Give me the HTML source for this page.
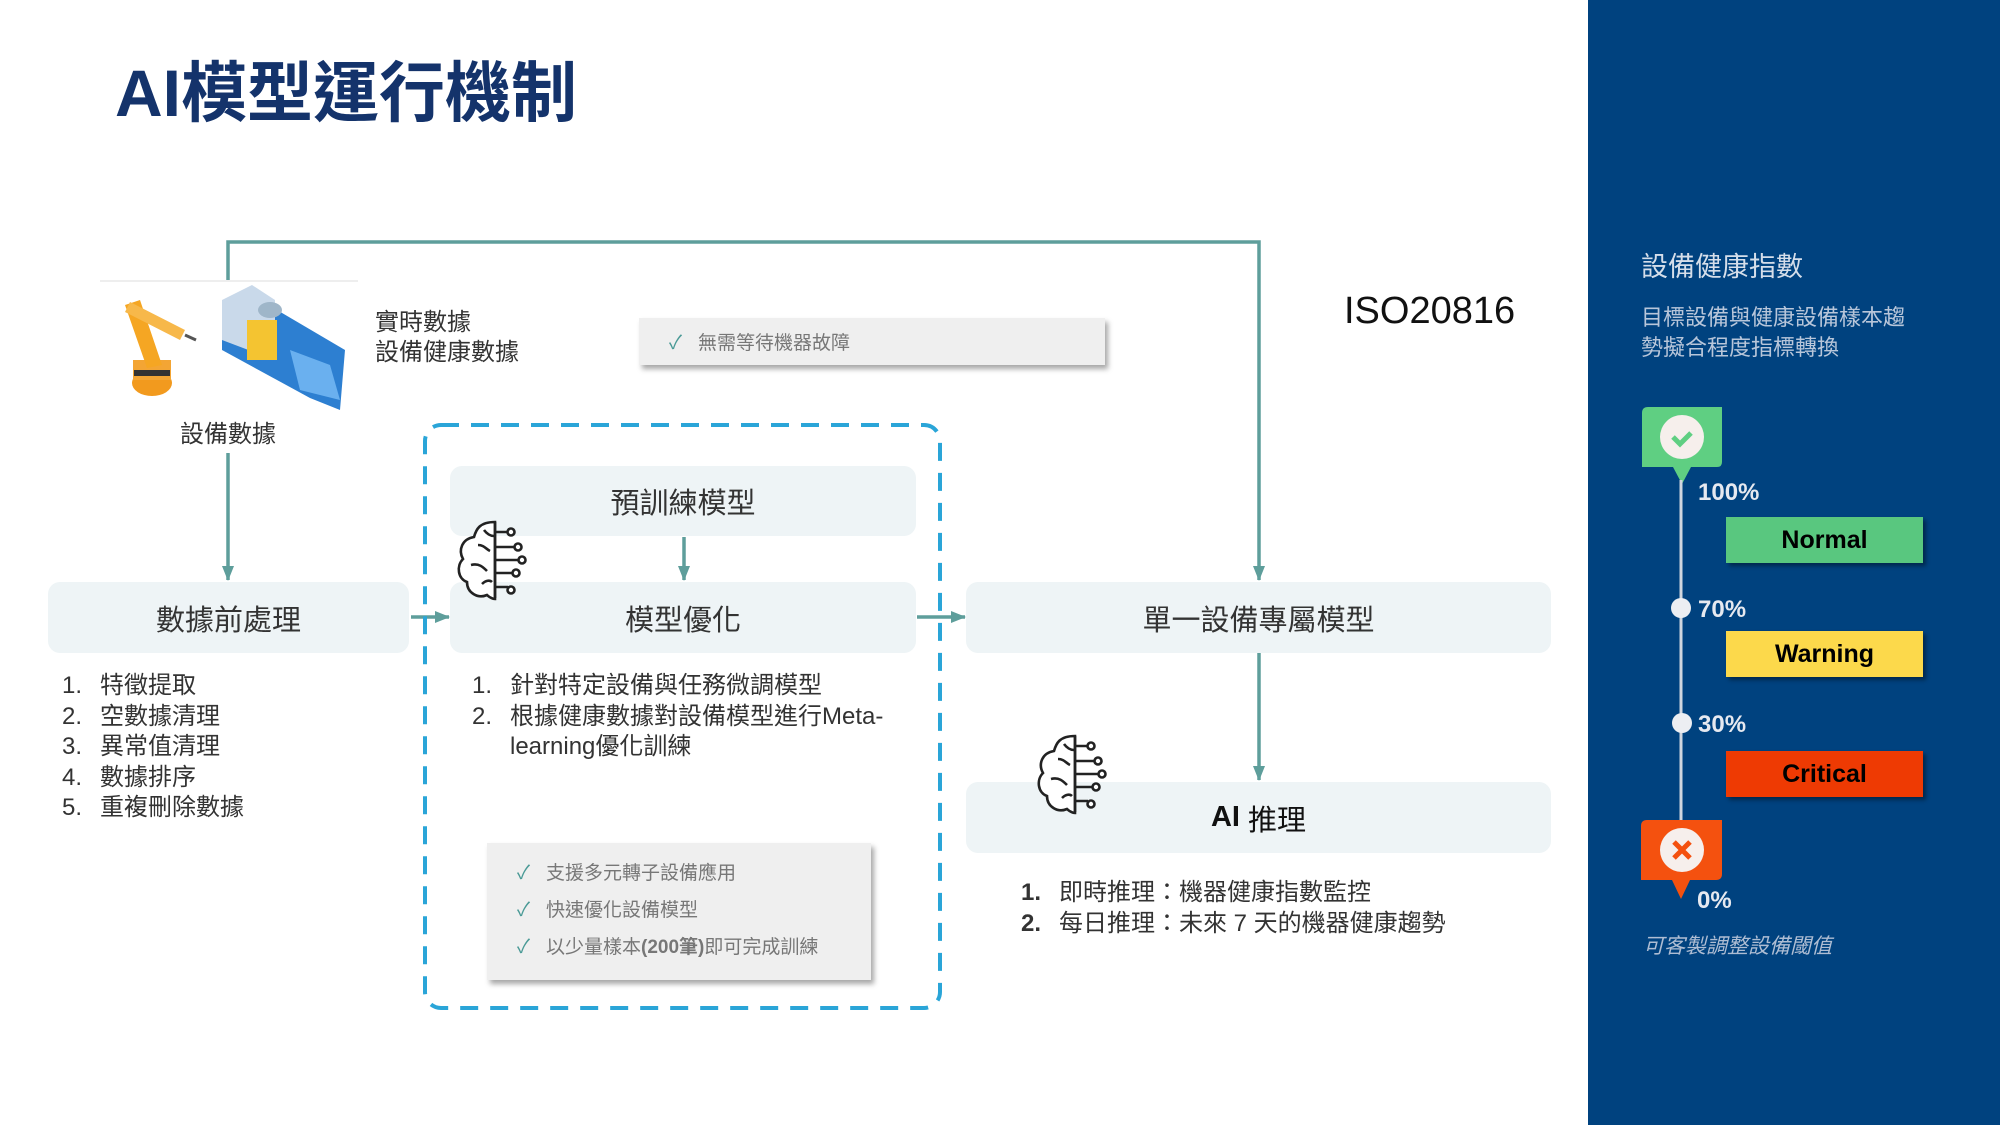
<!DOCTYPE html>
<html><head><meta charset="utf-8"><style>
*{margin:0;padding:0;box-sizing:border-box}
body{width:2000px;height:1125px;position:relative;background:#fff;font-family:"Liberation Sans","Noto Sans CJK TC",sans-serif;overflow:hidden;color:#333}
.a{position:absolute;white-space:nowrap}
.box{position:absolute;background:#eef4f6;border-radius:12px;display:flex;align-items:center;justify-content:center;font-size:29px;color:#333}
.gray{position:absolute;background:#efefef;box-shadow:3px 4px 5px rgba(0,0,0,.35)}
.chk{color:#4a9a96;margin-right:16px}
.li{font-size:24px;line-height:30.5px}
.n{display:inline-block;width:38px}
.tag{position:absolute;left:1726px;width:197px;height:46px;display:flex;align-items:center;justify-content:center;font-weight:bold;font-size:25px;color:#000;box-shadow:3px 3px 4px rgba(0,0,0,.4)}
.pct{position:absolute;color:#e6e9f0;font-weight:bold;font-size:24px}
</style></head><body>
<div class="a" style="left:115px;top:40px;font-size:66px;font-weight:bold;color:#14336b">AI模型運行機制</div>

<div class="a" style="left:1588px;top:0;width:412px;height:1125px;background:#00427f"></div>

<svg class="a" style="left:0;top:0" width="2000" height="1125">
<defs><marker id="ar" markerUnits="userSpaceOnUse" markerWidth="16" markerHeight="16" refX="14" refY="8" orient="auto"><path d="M0,2 L15,8 L0,14 z" fill="#5e9e9b"/></marker></defs>
<g stroke="#5e9e9b" stroke-width="3.5" fill="none">
<polyline points="228,282 228,242 1259,242 1259,580" marker-end="url(#ar)"/>
<line x1="228" y1="453" x2="228" y2="580" marker-end="url(#ar)"/>
<line x1="411" y1="617" x2="449" y2="617" marker-end="url(#ar)"/>
<line x1="684" y1="537" x2="684" y2="580" marker-end="url(#ar)"/>
<line x1="917" y1="617" x2="965" y2="617" marker-end="url(#ar)"/>
<line x1="1259" y1="653" x2="1259" y2="780" marker-end="url(#ar)"/>
</g>
<line x1="100" y1="281" x2="358" y2="281" stroke="#eee" stroke-width="2"/>
<rect x="425" y="425" width="515" height="583" rx="16" fill="none" stroke="#2aa5d8" stroke-width="4" stroke-dasharray="18,12"/>
<g>
<ellipse cx="152" cy="383" rx="20" ry="13" fill="#f29a1e"/>
<rect x="133" y="360" width="38" height="20" fill="#f3a534"/>
<rect x="134" y="370" width="36" height="6" fill="#333"/>
<path d="M125,305 L140,300 L162,365 L147,368 z" fill="#f5a623"/>
<path d="M130,302 L185,330 L180,340 L125,312 z" fill="#f7b84a"/>
<line x1="185" y1="335" x2="196" y2="340" stroke="#555" stroke-width="3"/>
</g>
<g>
<path d="M222,320 L260,300 L345,350 L340,410 L310,398 L222,350 z" fill="#2d7fd1"/>
<path d="M222,300 L252,285 L275,300 L275,360 L222,340 z" fill="#c9d9ea"/>
<rect x="247" y="320" width="30" height="40" fill="#f4c431"/>
<path d="M290,350 L330,365 L340,400 L300,390 z" fill="#6ab0ef"/>
<ellipse cx="270" cy="310" rx="12" ry="8" fill="#9fb6c9"/>
</g>
<path d="M1648,407 h74 v55 q0,5 -5,5 h-26 l-9,17 l-9,-17 h-31 v-54 q0,-6 6,-6 z" fill="#5fcf82"/>
<circle cx="1682" cy="437" r="22" fill="#f6efec"/>
<path d="M1673,437 l7,7 l11,-11" stroke="#5fcf82" stroke-width="5" fill="none"/>
<line x1="1681" y1="480" x2="1681" y2="822" stroke="#d0d6df" stroke-width="3"/>
<circle cx="1681" cy="608" r="10" fill="#eceef2"/>
<circle cx="1682" cy="723" r="10" fill="#eceef2"/>
<path d="M1648,820 h74 v54 q0,6 -6,6 h-26 l-9,19 l-9,-19 h-31 v-54 q0,-6 6,-6 z" fill="#f4510f"/>
<circle cx="1682" cy="850" r="22" fill="#f6efec"/>
<path d="M1674,842 l16,16 M1690,842 l-16,16" stroke="#f4510f" stroke-width="5"/>
</svg>

<div class="a" style="left:375px;top:308px;font-size:24px;line-height:30px">實時數據<br>設備健康數據</div>
<div class="a" style="left:180px;top:414px;font-size:24px">設備數據</div>
<div class="gray" style="left:639px;top:318px;width:466px;height:47px;display:flex;align-items:center;padding-left:30px;font-size:19px;color:#777"><span class="chk">✓</span>無需等待機器故障</div>
<div class="a" style="left:1344px;top:290px;font-size:38px;color:#111">ISO20816</div>

<div class="box" style="left:48px;top:582px;width:361px;height:71px">數據前處理</div>
<div class="box" style="left:450px;top:466px;width:466px;height:70px">預訓練模型</div>
<div class="box" style="left:450px;top:582px;width:466px;height:71px">模型優化</div>
<div class="box" style="left:966px;top:582px;width:585px;height:71px">單一設備專屬模型</div>
<div class="box" style="left:966px;top:782px;width:585px;height:71px;color:#111"><b>AI</b>&nbsp;推理</div>

<svg class="a" style="left:0;top:0" width="2000" height="1125">
<g id="brain" fill="#fff" stroke="#222" stroke-width="2.6">
<path d="M495,522 c-16,0 -19,8 -21,15 c-12,2 -16,13 -11,22 c-7,7 -5,20 4,23 c0,11 11,17 20,13 c4,4 8,4 8,4 z"/>
<path d="M478,545 c6,0 8,4 12,6 M471,565 c8,-2 12,2 16,6 M482,584 c4,-4 8,-4 10,-2 M484,530 c3,4 6,6 10,6" fill="none"/>
<line x1="495" y1="522" x2="495" y2="598"/>
<path d="M495,532 h13 M495,547 h20 M495,560 h24 M495,573 h18 M495,587 h13" fill="none"/>
<circle cx="511" cy="532" r="3.5"/><circle cx="518" cy="547" r="3.5"/><circle cx="522" cy="560" r="3.5"/><circle cx="516" cy="573" r="3.5"/><circle cx="511" cy="590" r="3.5"/>
</g>
<use href="#brain" x="580" y="214"/>
</svg>

<div class="a li" style="left:62px;top:671px"><span class="n">1.</span>特徵提取<br><span class="n">2.</span>空數據清理<br><span class="n">3.</span>異常值清理<br><span class="n">4.</span>數據排序<br><span class="n">5.</span>重複刪除數據</div>
<div class="a li" style="left:472px;top:671px"><span class="n">1.</span>針對特定設備與任務微調模型<br><span class="n">2.</span>根據健康數據對設備模型進行Meta-<br><span class="n"></span>learning優化訓練</div>
<div class="gray" style="left:487px;top:843px;width:384px;height:137px;padding:12px 0 0 30px;font-size:19px;line-height:37px;color:#777">
<div><span class="chk">✓</span>支援多元轉子設備應用</div>
<div><span class="chk">✓</span>快速優化設備模型</div>
<div><span class="chk">✓</span>以少量樣本<b>(200筆)</b>即可完成訓練</div></div>
<div class="a li" style="left:1021px;top:878px;color:#333"><b class="n">1.</b>即時推理：機器健康指數監控<br><b class="n">2.</b>每日推理：未來 7 天的機器健康趨勢</div>

<div class="a" style="left:1641px;top:245px;font-size:27px;color:#d5deea">設備健康指數</div>
<div class="a" style="left:1641px;top:303px;font-size:22px;line-height:30px;color:#b8c6da">目標設備與健康設備樣本趨<br>勢擬合程度指標轉換</div>
<div class="pct" style="left:1698px;top:479px">100%</div>
<div class="pct" style="left:1698px;top:596px">70%</div>
<div class="pct" style="left:1698px;top:711px">30%</div>
<div class="pct" style="left:1697px;top:887px">0%</div>
<div class="tag" style="top:517px;background:#59c77f">Normal</div>
<div class="tag" style="top:631px;background:#fcd94b">Warning</div>
<div class="tag" style="top:751px;background:#ee3a03">Critical</div>
<div class="a" style="left:1643px;top:930px;font-size:21px;font-style:italic;color:#aebdd3">可客製調整設備閾值</div>
</body></html>
